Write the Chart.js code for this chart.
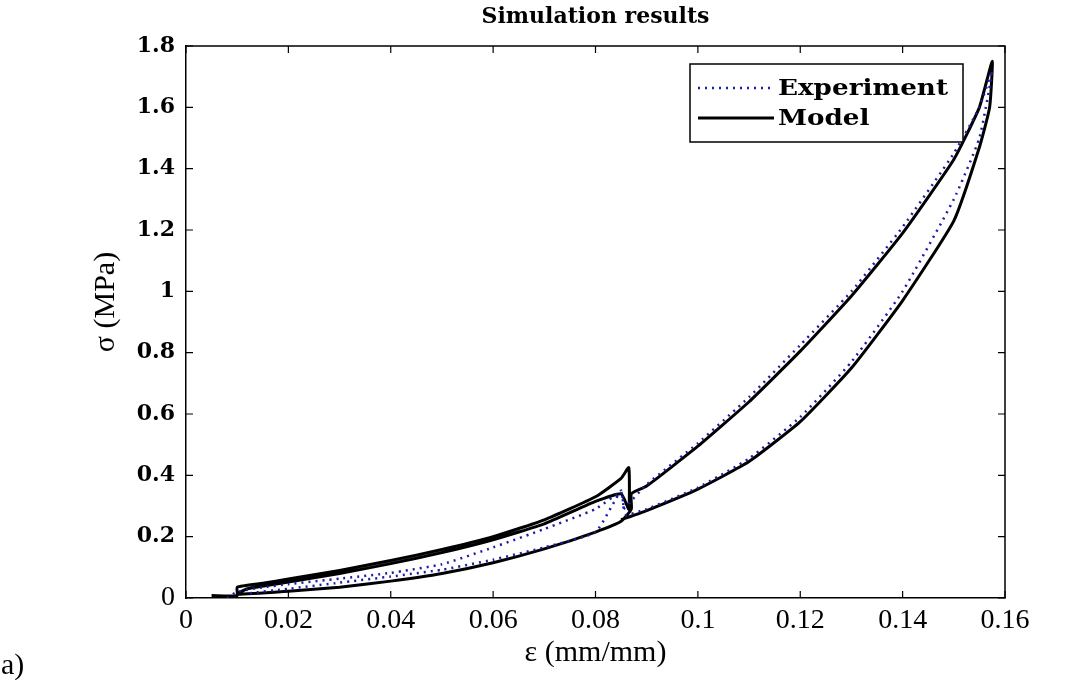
<!DOCTYPE html>
<html>
<head>
<meta charset="utf-8">
<script src="https://cdn.jsdelivr.net/npm/chart.js@4.4.1/dist/chart.umd.min.js"></script>
<style>
  html, body { margin: 0; padding: 0; background: #fff; }
  #wrap { width: 1075px; height: 680px; position: relative; }
</style>
</head>
<body>
<div id="wrap"><canvas id="stressChart"></canvas></div>
<script>
// Axis ticks
const strainTicks = [0, 0.02, 0.04, 0.06, 0.08, 0.1, 0.12, 0.14, 0.16];
const stressTicks = [0, 0.2, 0.4, 0.6, 0.8, 1, 1.2, 1.4, 1.6, 1.8];

// Model response: first cycle to 0.085, reload, then second cycle to ~0.157
const modelStrain = [
  0.005, 0.010, 0.010, 0.015, 0.020, 0.030, 0.040, 0.050, 0.060, 0.070, 0.080, 0.085, 0.0865,
  0.0865, 0.085,
  0.080, 0.070, 0.060, 0.050, 0.040, 0.030, 0.020, 0.012, 0.010,
  0.020, 0.030, 0.040, 0.050, 0.060, 0.070, 0.080, 0.085,
  0.087, 0.087,
  0.090, 0.100, 0.110, 0.120, 0.130, 0.140, 0.150, 0.155, 0.1575,
  0.157, 0.155, 0.150, 0.140, 0.130, 0.120, 0.110, 0.100, 0.090, 0.085
];
const modelStress = [
  0.008, 0.008, 0.035, 0.048, 0.062, 0.090, 0.122, 0.158, 0.200, 0.255, 0.330, 0.390, 0.425,
  0.290, 0.340,
  0.315, 0.242, 0.190, 0.148, 0.112, 0.080, 0.052, 0.030, 0.012,
  0.022, 0.035, 0.055, 0.080, 0.115, 0.160, 0.215, 0.250,
  0.290, 0.340,
  0.365, 0.495, 0.640, 0.805, 0.985, 1.190, 1.430, 1.600, 1.750,
  1.600, 1.470, 1.230, 0.970, 0.750, 0.575, 0.445, 0.355, 0.285, 0.255
];

// Measured response, first cycle (load to 0.085 and unload)
const expCycle1Strain = [
  0.008, 0.010, 0.015, 0.020, 0.030, 0.040, 0.050, 0.060, 0.070, 0.080, 0.085,
  0.0855, 0.085,
  0.080, 0.070, 0.060, 0.050, 0.040, 0.030, 0.020, 0.012
];
const expCycle1Stress = [
  0.000, 0.020, 0.035, 0.045, 0.063, 0.082, 0.110, 0.165, 0.225, 0.290, 0.345,
  0.290, 0.350,
  0.215, 0.165, 0.125, 0.092, 0.070, 0.050, 0.030, 0.015
];

// Measured response, second cycle (load to ~0.157 and unload)
const expCycle2Strain = [
  0.0855, 0.090, 0.100, 0.110, 0.120, 0.130, 0.140, 0.150, 0.155, 0.1575,
  0.155, 0.150, 0.140, 0.130, 0.120, 0.110, 0.100, 0.090, 0.085
];
const expCycle2Stress = [
  0.290, 0.370, 0.505, 0.655, 0.825, 1.000, 1.210, 1.450, 1.600, 1.720,
  1.500, 1.300, 1.000, 0.770, 0.590, 0.455, 0.360, 0.290, 0.265
];

const toPoints = (xs, ys) => xs.map((x, i) => ({ x: x, y: ys[i] }));

const expColor = "#1c1ca6";
const expDash = [2, 5];
const serifBold = "DejaVu Serif";
const serif = "Liberation Serif";

// Frame, inward tick marks, titles and legend
const decorations = {
  id: "decorations",
  afterDraw(chart) {
    const ctx = chart.ctx;
    const area = chart.chartArea;
    const xs = chart.scales.x;
    const ys = chart.scales.y;
    const tickLen = 7;

    ctx.save();
    ctx.strokeStyle = "#000";
    ctx.lineWidth = 1.5;
    ctx.beginPath();
    ctx.moveTo(area.left, area.top);
    ctx.lineTo(area.right, area.top);
    ctx.lineTo(area.right, area.bottom);
    ctx.stroke();

    ctx.lineWidth = 1.2;
    ctx.beginPath();
    strainTicks.forEach((v) => {
      const px = xs.getPixelForValue(v);
      ctx.moveTo(px, area.bottom);
      ctx.lineTo(px, area.bottom - tickLen);
      ctx.moveTo(px, area.top);
      ctx.lineTo(px, area.top + tickLen);
    });
    stressTicks.forEach((v) => {
      const py = ys.getPixelForValue(v);
      ctx.moveTo(area.left, py);
      ctx.lineTo(area.left + tickLen, py);
      ctx.moveTo(area.right, py);
      ctx.lineTo(area.right - tickLen, py);
    });
    ctx.stroke();

    // chart title
    ctx.fillStyle = "#000";
    ctx.textAlign = "center";
    ctx.textBaseline = "middle";
    ctx.font = "bold 22px '" + serifBold + "'";
    ctx.fillText("Simulation results", (area.left + area.right) / 2, 17);

    // axis titles
    ctx.font = "30px '" + serif + "'";
    ctx.fillText("ε (mm/mm)", (area.left + area.right) / 2, 653);
    ctx.save();
    ctx.translate(106, 302);
    ctx.rotate(-Math.PI / 2);
    ctx.fillText("σ (MPa)", 0, 0);
    ctx.restore();

    // panel label
    ctx.textAlign = "left";
    ctx.font = "30px '" + serif + "'";
    ctx.fillText("a)", 1, 666);

    // legend
    const box = { left: 690, top: 64, right: 963, bottom: 142 };
    ctx.fillStyle = "#fff";
    ctx.fillRect(box.left, box.top, box.right - box.left, box.bottom - box.top);
    ctx.lineWidth = 1.5;
    ctx.strokeStyle = "#000";
    ctx.strokeRect(box.left, box.top, box.right - box.left, box.bottom - box.top);

    const rows = [
      { label: "Experiment", y: 88, color: expColor, dash: expDash, width: 2.5 },
      { label: "Model", y: 118, color: "#000", dash: [], width: 3 }
    ];
    rows.forEach((r) => {
      ctx.beginPath();
      ctx.strokeStyle = r.color;
      ctx.lineWidth = r.width;
      ctx.setLineDash(r.dash);
      ctx.moveTo(698, r.y);
      ctx.lineTo(774, r.y);
      ctx.stroke();
      ctx.setLineDash([]);
      ctx.fillStyle = "#000";
      ctx.font = "bold 23px '" + serifBold + "'";
      // legend text runs a little wide
      ctx.save();
      ctx.translate(778, r.y + 1);
      ctx.scale(1.14, 1);
      ctx.fillText(r.label, 0, 0);
      ctx.restore();
    });
    ctx.restore();
  }
};

const fmt = (v) => Number(v.toFixed(2)).toString();

const ctx = document.getElementById("stressChart").getContext("2d");
const stressChart = new Chart(ctx, {
  type: "scatter",
  data: {
    datasets: [
      {
        label: "Experiment",
        data: toPoints(expCycle1Strain, expCycle1Stress),
        showLine: true,
        borderColor: expColor,
        borderWidth: 2.5,
        borderDash: expDash,
        pointRadius: 0,
        tension: 0.15
      },
      {
        label: "Experiment (cycle 2)",
        data: toPoints(expCycle2Strain, expCycle2Stress),
        showLine: true,
        borderColor: expColor,
        borderWidth: 2.5,
        borderDash: expDash,
        pointRadius: 0,
        tension: 0.15
      },
      {
        label: "Model",
        data: toPoints(modelStrain, modelStress),
        showLine: true,
        borderColor: "#000",
        borderWidth: 3,
        pointRadius: 0,
        tension: 0.15
      }
    ]
  },
  options: {
    responsive: true,
    maintainAspectRatio: false,
    animation: false,
    layout: { padding: { left: 0, right: 70, top: 46, bottom: 0 } },
    plugins: {
      legend: { display: false },
      title: { display: false },
      tooltip: { enabled: false }
    },
    scales: {
      x: {
        type: "linear",
        min: 0,
        max: 0.16,
        afterFit: (scale) => { scale.height = 82; },
        afterBuildTicks: (scale) => { scale.ticks = strainTicks.map((v) => ({ value: v })); },
        grid: { display: false, drawTicks: false },
        border: { display: true, color: "#000", width: 1.5 },
        ticks: {
          padding: 6,
          color: "#000",
          maxRotation: 0,
          font: { family: serif, size: 28 },
          callback: (v) => fmt(v)
        }
      },
      y: {
        type: "linear",
        min: 0,
        max: 1.8,
        afterFit: (scale) => { scale.width = 186; },
        afterBuildTicks: (scale) => { scale.ticks = stressTicks.map((v) => ({ value: v })); },
        grid: { display: false, drawTicks: false },
        border: { display: true, color: "#000", width: 1.5 },
        ticks: {
          padding: 11,
          color: "#000",
          font: (c) => (c.tick && c.tick.value === 0)
            ? { family: serif, size: 28 }
            : { family: serifBold, size: 22, weight: "bold" },
          callback: (v) => fmt(v)
        }
      }
    }
  },
  plugins: [decorations]
});
</script>
</body>
</html>
